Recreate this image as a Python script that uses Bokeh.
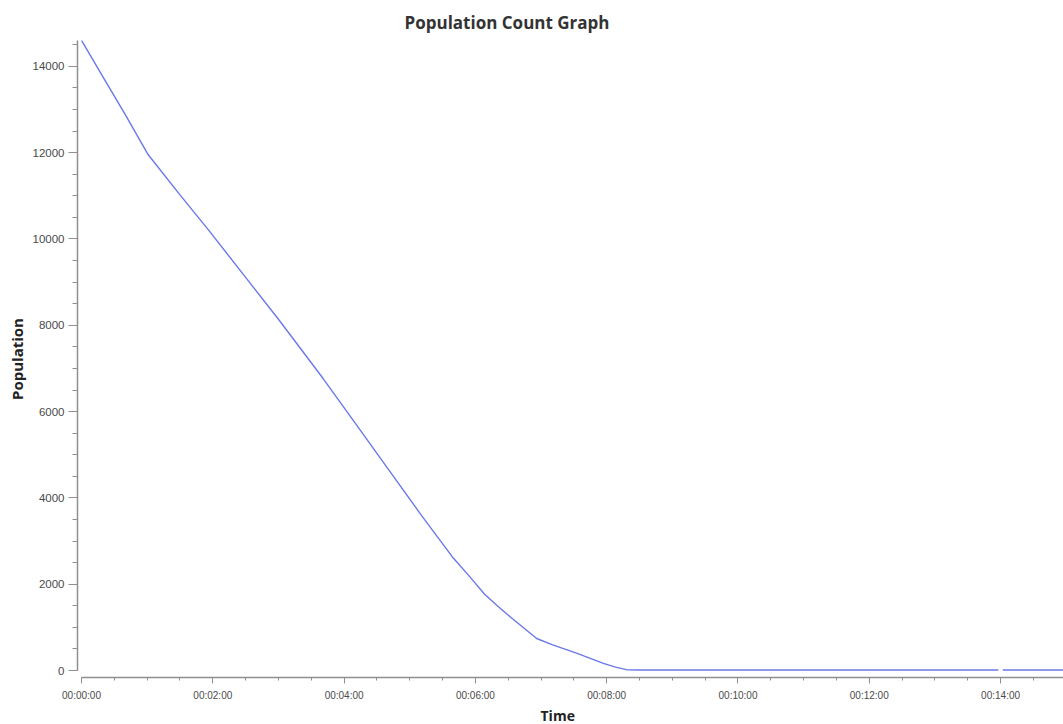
from bokeh.plotting import figure
from bokeh.models import Range1d, FixedTicker, Title
from bokeh.embed import file_html
from bokeh.resources import INLINE

# Time in seconds since start, population count (None = gap in the line)
time_s = [0, 20, 40, 61, 90, 116, 150, 180, 221, 250, 280, 310, 340, 355, 368, 380,
          392, 404, 416, 430, 453, 465, 477, 488, 499, 510, 600, 700, 838, None, 842, 900]
population = [14600, 13740, 12880, 11950, 11020, 10210, 9110, 8140, 6760, 5740, 4680, 3620, 2600, 2170, 1780, 1500,
              1240, 990, 743, 600, 398, 280, 168, 80, 16, 12, 12, 12, 12, None, 12, 12]

x_major = [0, 120, 240, 360, 480, 600, 720, 840]
x_labels = ["00:00:00", "00:02:00", "00:04:00", "00:06:00", "00:08:00", "00:10:00", "00:12:00", "00:14:00"]
x_minor = list(range(0, 900, 30))
y_major = [0, 2000, 4000, 6000, 8000, 10000, 12000, 14000]
y_minor = list(range(0, 14600, 500))

xs = [float("nan") if v is None else v for v in time_s]
ys = [float("nan") if v is None else v for v in population]

p = figure(width=1063, height=724, output_backend="svg", toolbar_location=None,
           x_range=Range1d(-3.66, 897.5), y_range=Range1d(-161, 14598),
           min_border_left=77, min_border_top=40, min_border_right=0, min_border_bottom=43)
p.title = Title(text="Population Count Graph", align="left", offset=327, standoff=14,
                text_font="Open Sans", text_font_size="17px", text_font_style="bold",
                text_color="#333333")

p.line(xs, ys, line_color="#6b78e8", line_width=1.4)

p.xgrid.visible = False
p.ygrid.visible = False
p.outline_line_color = None
p.background_fill_color = "white"
p.border_fill_color = "white"

for ax in (p.xaxis[0], p.yaxis[0]):
    ax.axis_line_color = "#8f8f8f"
    ax.axis_line_width = 1.5
    ax.major_tick_line_color = "#8f8f8f"
    ax.minor_tick_line_color = "#8f8f8f"
    ax.major_tick_in = 0
    ax.minor_tick_in = 0
    ax.major_label_text_font = "Liberation Sans"
    ax.major_label_text_color = "#4a4a4a"
    ax.axis_label_text_font = "Open Sans"
    ax.axis_label_text_font_style = "bold"
    ax.axis_label_text_color = "#222222"

p.xaxis.ticker = FixedTicker(ticks=x_major, minor_ticks=x_minor)
p.xaxis.major_label_overrides = {t: l for t, l in zip(x_major, x_labels)}
p.xaxis.bounds = (0, 897.5)
p.xaxis.major_tick_out = 6
p.xaxis.minor_tick_out = 3
p.xaxis.major_label_standoff = 6
p.xaxis.major_label_text_font_size = "10px"

p.add_layout(Title(text="Time", align="left", offset=463, standoff=0,
                   text_font="Open Sans", text_font_style="bold", text_font_size="14px",
                   text_color="#222222"), "below")

p.yaxis.ticker = FixedTicker(ticks=y_major, minor_ticks=y_minor)
p.yaxis.bounds = (0, 14598)
p.yaxis.major_tick_out = 9
p.yaxis.minor_tick_out = 5
p.yaxis.major_label_standoff = 4
p.yaxis.major_label_text_font_size = "11.5px"
p.yaxis.axis_label = "Population"
p.yaxis.axis_label_text_font_size = "15px"
p.yaxis.axis_label_standoff = 3

open("out.html", "w").write(file_html(p, INLINE))
